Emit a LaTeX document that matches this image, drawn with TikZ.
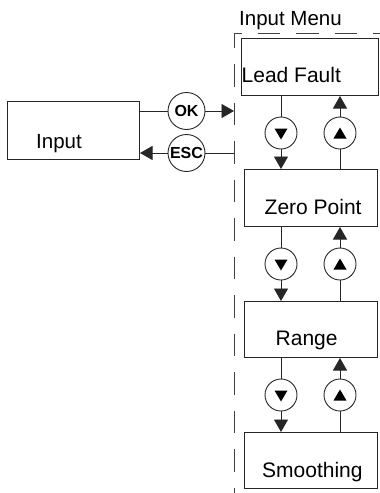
\documentclass[tikz,border=0pt]{standalone}
\usepackage{fontspec}
\setmainfont{Liberation Sans}
\usetikzlibrary{arrows.meta,calc}
\begin{document}
\begin{tikzpicture}[x=1pt,y=-1pt,
  menubox/.style={draw=black!85, line width=1pt, rectangle, inner sep=0pt, anchor=north west},
  boxtext/.style={anchor=base west, inner sep=0pt, font=\fontsize{21}{24}\selectfont},
  smalltext/.style={anchor=base west, inner sep=0pt, font=\fontsize{20.5}{24}\selectfont},
  keycircle/.style={draw=black!85, circle, line width=0.9pt, minimum size=37pt, inner sep=0pt, font=\fontsize{16}{18}\selectfont\bfseries},
  navcircle/.style={draw=black!85, circle, line width=0.9pt, minimum size=32pt, inner sep=0pt},
  downmark/.style={path picture={\fill ($(path picture bounding box.center)+(-6.5,-4.5)$) -- ++(13,0) -- ++(-6.5,11) -- cycle;}},
  upmark/.style={path picture={\fill ($(path picture bounding box.center)+(-6.5,5.5)$) -- ++(13,0) -- ++(-6.5,-11) -- cycle;}},
  conn/.style={draw=black!85, line width=0.9pt},
  tip/.style={-{Triangle[length=12.5pt,width=14pt]}},
  framedash/.style={draw=black!75, line width=0.9pt, dash pattern=on 22.5pt off 16pt, dash phase=15.5pt}
]
\useasboundingbox (0,0) rectangle (380,493);

% dashed frame
\draw[framedash] (380,33) -- (234,33) -- (234,493);
\coordinate (okend) at (234,111);
\coordinate (escstart) at (234,153);
\node[smalltext] (menutitle) at (239,25.7) {Input Menu};

% boxes
\node[menubox, minimum width=132pt, minimum height=58pt] (input) at (7,101) {};
\node[smalltext] (inputtext) at (36,148) {Input};
\node[menubox, minimum width=137pt, minimum height=57pt] (lead) at (241,38) {};
\node[boxtext] (leadtext) at (241.5,82) {Lead Fault};
\node[menubox, minimum width=133pt, minimum height=57pt] (zero) at (244,169) {};
\node[boxtext] (zerotext) at (264.5,214) {Zero Point};
\node[menubox, minimum width=133pt, minimum height=56pt] (range) at (244,301) {};
\node[boxtext] (rangetext) at (275.5,345) {Range};
\node[menubox, minimum width=133pt, minimum height=56pt] (smooth) at (244,432) {};
\node[boxtext] (smoothtext) at (262,477) {Smoothing};

% OK / ESC keys
\node[keycircle] (ok) at (186.5,111) {OK};
\node[keycircle] (esc) at (186.5,153) {ESC};
\draw[conn] (input.east |- ok) -- (ok);
\draw[conn,tip] (ok) -- (okend);
\draw[conn] (escstart) -- (esc);
\draw[conn,tip] (esc) -- (input.east |- esc);

% navigation circles
\node[navcircle,downmark] (dn1) at (281,133) {};
\node[navcircle,upmark] (up1) at (340,133) {};
\node[navcircle,downmark] (dn2) at (281,264) {};
\node[navcircle,upmark] (up2) at (340,264) {};
\node[navcircle,downmark] (dn3) at (281,395) {};
\node[navcircle,upmark] (up3) at (340,395) {};

\draw[conn] (lead.south -| dn1) -- (dn1);
\draw[conn,tip] (dn1) -- (dn1 |- zero.north);
\draw[conn] (zero.north -| up1) -- (up1);
\draw[conn,tip] (up1) -- (up1 |- lead.south);

\draw[conn] (zero.south -| dn2) -- (dn2);
\draw[conn,tip] (dn2) -- (dn2 |- range.north);
\draw[conn] (range.north -| up2) -- (up2);
\draw[conn,tip] (up2) -- (up2 |- zero.south);

\draw[conn] (range.south -| dn3) -- (dn3);
\draw[conn,tip] (dn3) -- (dn3 |- smooth.north);
\draw[conn] (smooth.north -| up3) -- (up3);
\draw[conn,tip] (up3) -- (up3 |- range.south);
\end{tikzpicture}
\end{document}
